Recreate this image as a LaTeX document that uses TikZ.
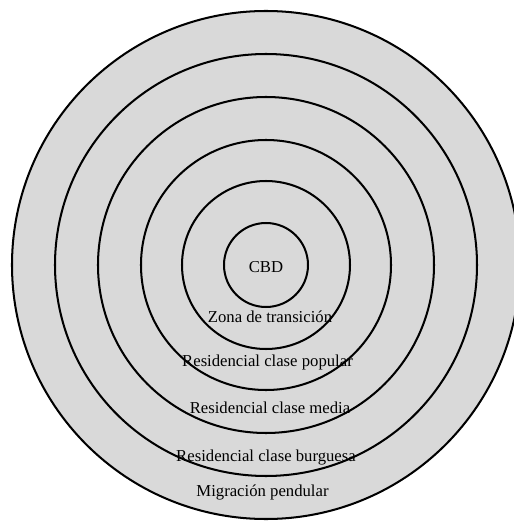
\documentclass[tikz,border=0pt]{standalone}
\usepackage{fontspec}
\setmainfont{Liberation Serif}
\usepackage{tikz}
\usetikzlibrary{positioning}

\definecolor{zonegray}{RGB}{217,217,217}

\begin{document}
\begin{tikzpicture}[zone/.style={fill=zonegray,draw=black,line width=1.15pt},
	lbl/.style={font=\fontsize{9.5}{11}\selectfont,inner sep=0pt,anchor=base}]
	\useasboundingbox (-5.32,-5.12) rectangle (4.96,5.30);
	% rings, outer first
	\foreach \r in {5.08,4.22,3.36,2.50,1.68,0.84}
		\draw[zone] (0,0) circle (\r);
	\node[lbl,anchor=center] (cbd) at (0,-0.05) {CBD};
	\node[lbl] (transicion) at (0.08,-1.16) {Zona de transición};
	\node[lbl] (popular) at (0.03,-2.02) {Residencial clase popular};
	\node[lbl] (media) at (0.08,-2.96) {Residencial clase media};
	\node[lbl] (burguesa) at (0,-3.92) {Residencial clase burguesa};
	\node[lbl] (pendular) at (-0.07,-4.62) {Migración pendular};
\end{tikzpicture}
\end{document}
